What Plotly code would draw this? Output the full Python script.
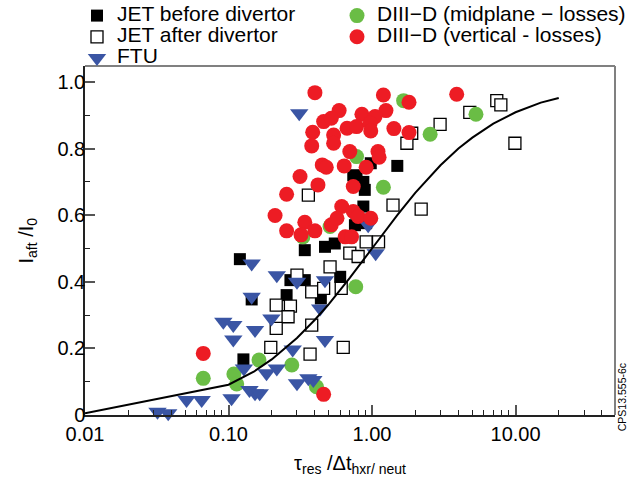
import plotly.graph_objects as go

# ---- data -------------------------------------------------------------
# JET before divertor (filled black squares)
jet_before_x = [1.50, 0.98, 0.78, 0.74, 0.87, 0.89, 0.87, 0.78, 0.91, 0.76,
                0.47, 0.55, 0.34, 0.60, 0.27, 0.254, 0.34, 0.44, 0.12, 0.145, 0.127]
jet_before_y = [0.748, 0.756, 0.718, 0.72, 0.70, 0.676, 0.626, 0.606, 0.576, 0.57,
                0.505, 0.515, 0.495, 0.415, 0.405, 0.36, 0.405, 0.35, 0.468, 0.347, 0.167]

# JET after divertor (open squares)
jet_after_x = [7.4, 7.9, 4.8, 2.98, 9.9, 1.89, 1.75, 0.36, 1.4, 2.2,
               0.91, 1.11, 0.70, 0.80, 0.51, 0.30, 0.38, 0.46, 0.61, 0.215,
               0.27, 0.26, 0.215, 0.197, 0.38, 0.37, 0.63]
jet_after_y = [0.944, 0.931, 0.909, 0.873, 0.816, 0.846, 0.816, 0.66, 0.63, 0.618,
               0.52, 0.52, 0.486, 0.476, 0.445, 0.42, 0.37, 0.38, 0.38, 0.33,
               0.327, 0.295, 0.26, 0.203, 0.27, 0.183, 0.203]

# FTU (blue down triangles)
ftu_x = [0.311, 0.94, 1.06, 0.145, 0.217, 0.30, 0.47, 0.435, 0.199, 0.145,
         0.092, 0.108, 0.153, 0.108, 0.47, 0.28, 0.184, 0.217, 0.128, 0.30,
         0.39, 0.36, 0.153, 0.14, 0.105, 0.051, 0.065, 0.032, 0.038, 0.165]
ftu_y = [0.906, 0.57, 0.486, 0.455, 0.42, 0.40, 0.405, 0.32, 0.29, 0.355,
         0.28, 0.27, 0.255, 0.227, 0.225, 0.197, 0.125, 0.14, 0.14, 0.095,
         0.105, 0.11, 0.065, 0.075, 0.05, 0.045, 0.045, 0.01, 0.005, 0.065]

# DIII-D, midplane losses (green circles)
d3d_mid_x = [0.0235, 0.0667, 0.109, 0.114, 0.163, 0.276, 0.41, 0.77, 0.51, 0.33,
             0.78, 1.2, 1.66, 2.54, 5.3]
d3d_mid_y = [-0.01, 0.11, 0.123, 0.093, 0.165, 0.15, 0.085, 0.385, 0.566, 0.535,
             0.776, 0.684, 0.944, 0.843, 0.903]

# DIII-D, vertical losses (red circles)
d3d_vert_x = [0.40, 1.20, 1.81, 3.89, 0.59, 0.85, 1.25, 1.05, 0.46, 0.52,
              0.67, 0.78, 0.97, 0.386, 0.54, 0.98, 1.42, 1.81, 0.38, 0.54,
              0.70, 1.10, 1.12, 0.45, 0.48, 0.64, 0.91, 0.315, 0.42, 0.74,
              0.254, 0.211, 0.254, 0.34, 0.40, 0.32, 0.52, 0.615, 0.57, 0.74,
              0.80, 0.98, 0.65, 0.72, 0.0667, 0.46]
d3d_vert_y = [0.968, 0.961, 0.939, 0.963, 0.914, 0.903, 0.914, 0.896, 0.881, 0.891,
              0.861, 0.866, 0.876, 0.849, 0.841, 0.853, 0.860, 0.848, 0.808, 0.816,
              0.791, 0.791, 0.774, 0.751, 0.744, 0.748, 0.744, 0.716, 0.691, 0.686,
              0.663, 0.599, 0.553, 0.579, 0.553, 0.541, 0.571, 0.626, 0.591, 0.611,
              0.596, 0.591, 0.535, 0.535, 0.185, 0.062]

# model curve
curve_x = [0.01, 0.1, 0.15, 0.2, 0.3, 0.4, 0.5, 0.7, 1.0, 1.5,
           2.0, 3.0, 4.0, 5.0, 7.0, 10.0, 15.0, 20.0]
curve_y = [0.005, 0.091, 0.13, 0.167, 0.231, 0.286, 0.333, 0.412, 0.5, 0.6,
           0.667, 0.75, 0.8, 0.833, 0.875, 0.909, 0.938, 0.952]

# axis ticks
x_tickvals = [0.01, 0.1, 1, 10]
x_ticktext = ["0.01", "0.10", "1.00", "10.00"]
x_minor = [0.02, 0.03, 0.04, 0.05, 0.06, 0.07, 0.08, 0.09,
           0.2, 0.3, 0.4, 0.5, 0.6, 0.7, 0.8, 0.9,
           2, 3, 4, 5, 6, 7, 8, 9, 20, 30, 40]
y_tickvals = [0, 0.2, 0.4, 0.6, 0.8, 1.0]
y_ticktext = ["0", "0.2", "0.4", "0.6", "0.8", "1.0"]
y_minor = [0.1, 0.3, 0.5, 0.7, 0.9]

FONT = "Liberation Sans, Arial, Helvetica, sans-serif"
RED = "#ED1C24"
GREEN = "#6ABD45"
BLUE = "#3A55A4"


def lbl(s):
    return f'<span style="font-size:21px">{s}</span>'


fig = go.Figure()

fig.add_trace(go.Scatter(
    x=jet_before_x, y=jet_before_y, mode="markers", name=lbl("JET before divertor"),
    marker=dict(symbol="square", size=12, color="black", line=dict(width=0)),
    legend="legend", cliponaxis=False))
fig.add_trace(go.Scatter(
    x=jet_after_x, y=jet_after_y, mode="markers", name=lbl("JET after divertor"),
    marker=dict(symbol="square", size=12, color="white", line=dict(width=1.3, color="black")),
    legend="legend", cliponaxis=False))
fig.add_trace(go.Scatter(
    x=d3d_mid_x, y=d3d_mid_y, mode="markers", name=lbl("DIII\u2212D (midplane \u2212 losses)"),
    marker=dict(symbol="circle", size=15, color=GREEN, line=dict(width=0)),
    legend="legend2", cliponaxis=False))
fig.add_trace(go.Scatter(
    x=ftu_x, y=ftu_y, mode="markers", name=lbl("FTU"),
    marker=dict(symbol="triangle-down", size=16, color=BLUE, line=dict(width=0)),
    legend="legend", cliponaxis=False))
fig.add_trace(go.Scatter(
    x=d3d_vert_x, y=d3d_vert_y, mode="markers", name=lbl("DIII\u2212D (vertical - losses)"),
    marker=dict(symbol="circle", size=15, color=RED, line=dict(width=0)),
    legend="legend2", cliponaxis=False))
fig.add_trace(go.Scatter(
    x=curve_x, y=curve_y, mode="lines", line=dict(color="black", width=2),
    showlegend=False, hoverinfo="skip"))

legend_common = dict(
    xref="container", yref="container", xanchor="left", yanchor="top",
    font=dict(family=FONT, size=14, color="black"), bgcolor="rgba(0,0,0,0)",
    borderwidth=0, tracegroupgap=0, itemsizing="trace", traceorder="normal")

fig.update_layout(
    width=641, height=477,
    margin=dict(l=85, r=26, t=66, b=62, autoexpand=False),
    paper_bgcolor="white", plot_bgcolor="white",
    font=dict(family=FONT, size=20, color="black"),
    showlegend=True,
    legend=dict(x=77 / 641, y=1.0095, **legend_common),
    legend2=dict(x=337 / 641, y=1.0095, **legend_common),
    xaxis=dict(
        type="log", range=[-2, 1.693], automargin=False,
        tickmode="array", tickvals=x_tickvals, ticktext=x_ticktext,
        ticks="inside", ticklen=10, tickwidth=1.5, tickcolor="#555",
        showline=True, linecolor="#222", linewidth=1.5, mirror=False,
        showgrid=False, zeroline=False,
        minor=dict(tickmode="array", tickvals=x_minor, ticks="inside", ticklen=5,
                   tickwidth=1, tickcolor="#222", showgrid=False),
        tickfont=dict(size=20),
        title=dict(text="\u03c4<sub>res</sub> /\u0394t<sub>hxr/ neut</sub>",
                   font=dict(size=20), standoff=12),
    ),
    yaxis=dict(
        range=[0, 1.048], automargin=False,
        tickmode="array", tickvals=y_tickvals, ticktext=y_ticktext,
        ticks="inside", ticklen=10, tickwidth=1.5, tickcolor="#555",
        ticklabelstandoff=-6,
        showline=True, linecolor="#222", linewidth=1.5, mirror=False,
        showgrid=False, zeroline=False,
        minor=dict(tickmode="array", tickvals=y_minor, ticks="inside", ticklen=5,
                   tickwidth=1, tickcolor="#222", showgrid=False),
        tickfont=dict(size=20),
    ),
    shapes=[
        dict(type="line", xref="paper", yref="paper", x0=0, x1=1, y0=1, y1=1,
             line=dict(color="#808080", width=2)),
        dict(type="line", xref="paper", yref="paper", x0=1, x1=1, y0=0, y1=1,
             line=dict(color="#808080", width=2)),
    ],
    annotations=[
        dict(text="I<sub>aft</sub> /I<sub>0</sub>", xref="paper", yref="paper",
             x=(27 - 85) / 530, y=0.5, xanchor="center", yanchor="middle",
             textangle=-90, showarrow=False, font=dict(family=FONT, size=20, color="black")),
        dict(text="CPS13.555-6c", xref="paper", yref="paper", x=1.0126, y=0.05,
             xanchor="center", yanchor="middle", textangle=-90, showarrow=False,
             font=dict(family=FONT, size=10.5, color="black")),
    ],
)

fig.write_html("out.html")
